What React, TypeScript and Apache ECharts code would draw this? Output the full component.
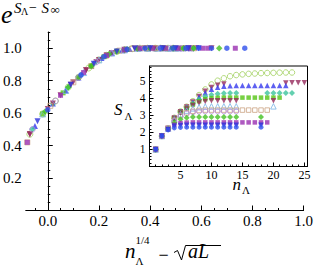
import React, { useEffect, useRef } from "react";
import * as echarts from "echarts";

// ---------- tick values ----------
const mainXTicks = [0, 0.2, 0.4, 0.6, 0.8, 1.0];
const mainYTicks = [0.2, 0.4, 0.6, 0.8, 1.0];
const insetXTicks = [5, 10, 15, 20, 25];
const insetYTicks = [1, 2, 3, 4, 5];

// ---------- inset: n values and S_Lambda per series (null = no point) ----------
const insetN = [1, 2, 3, 4, 5, 6, 7, 8, 9, 10, 11, 12, 13, 14, 15, 16, 17, 18, 19, 20, 21, 22, 23, 24, 25];

const inBlueCircle = [1.0, 1.78, 2.14, 2.26, 2.29, 2.3, 2.3, 2.3, 2.3, 2.3, 2.3, 2.3, 2.3, 2.3, null, null, null, 2.3];
const inBlueDown = [1.0, 1.78, 2.16, 2.35, 2.4, 2.42, 2.42, 2.42, 2.42, 2.42, 2.42, 2.42, 2.42, 2.42, null, null, null, 2.42];
const inPurpleSquare = [1.0, 1.78, 2.18, 2.44, 2.54, 2.57, 2.58, 2.58, 2.58, 2.58, 2.58, 2.58, 2.58, 2.58, 2.58, 2.58, 2.58, 2.58, 2.58];
const inGreenDiamond = [1.0, 1.78, 2.2, 2.56, 2.76, 2.85, 2.89, 2.9, 2.9, 2.9, 2.9, 2.9, 2.9, 2.9, null, null, null, 2.9];
const inVioletCircle = [1.0, 1.78, 2.21, 2.66, 2.94, 3.1, 3.18, 3.21, 3.22, 3.22, 3.22, 3.22, 3.22, 3.22];
const inTanSquare = [1.0, 1.78, 2.22, 2.7, 2.98, 3.14, 3.23, 3.28, 3.3, 3.3, 3.3, 3.3, 3.3, 3.3, 3.3, 3.3, 3.3, 3.3, 3.3];
const inLightBlueTri = [1.0, 1.78, 2.22, 2.75, 3.06, 3.27, 3.4, 3.47, 3.51, 3.52, 3.52, 3.52, 3.52, 3.52, null, null, null, null, null, 3.52];
const inMaroonDownA = [1.0, 1.78, 2.22, 2.78, 3.12, 3.37, 3.57, 3.72, 3.8, 3.84, 3.85, 3.85, 3.85, 3.85, null, null, null, null, null, 3.85];
const inGreenSquare = [1.0, 1.78, 2.22, 2.8, 3.15, 3.4, 3.62, 3.82, 3.94, 4.0, 4.02, 4.03, 4.03, 4.03, 4.03, 4.03, 4.03, 4.03, 4.03, 4.03, 4.03];
const inTealDiamond = [1.0, 1.78, 2.22, 2.82, 3.18, 3.43, 3.68, 3.92, 4.1, 4.2, 4.26, 4.29, 4.3, 4.3, null, null, null, null, 4.3, 4.3, 4.3, 4.3, 4.3];
const inBlueUp = [1.0, 1.78, 2.22, 2.83, 3.2, 3.46, 3.74, 4.05, 4.32, 4.52, 4.64, 4.7, 4.73, 4.74, 4.74, 4.74, 4.74, 4.74, 4.74, 4.74, 4.74, 4.74];
const inMaroonDownB = [1.0, 1.78, 2.22, 2.84, 3.21, 3.48, 3.78, 4.1, 4.4, 4.62, 4.75, 4.82, null, null, null, null, null, null, null, null, null, 4.88, 4.9, 4.9, 4.9];
const inGreenCircle = [1.0, 1.78, 2.22, 2.85, 3.22, 3.5, 3.82, 4.18, 4.51, 4.8, 5.02, 5.16, 5.28, 5.35, 5.39, 5.42, 5.44, 5.46, 5.47, 5.48, 5.49, 5.5, 5.5];

// ---------- main plot: [n^(1/4) - sqrt(aL), e^(S - S_inf)] per series ----------
const mBlueCircle = [[0.0, 0.62], [0.13, 0.835], [0.22, 0.948], [0.31, 0.993], [0.38, 1.0], [0.44, 1.0], [0.49, 1.0], [0.54, 1.0], [0.59, 1.0], [0.64, 1.0], [0.7, 1.0], [0.77, 1.0]];
const mBlueDown = [[-0.04, 0.55], [0.09, 0.775], [0.18, 0.905], [0.27, 0.98], [0.34, 0.998], [0.4, 1.0], [0.45, 1.0], [0.5, 1.0], [0.55, 1.0], [0.59, 1.0]];
const mPurpleSquare = [[-0.08, 0.42], [0.05, 0.71], [0.14, 0.85], [0.23, 0.956], [0.3, 0.99], [0.36, 1.0], [0.41, 1.0], [0.46, 1.0], [0.51, 1.0], [0.55, 1.0], [0.605, 1.0], [0.625, 1.0], [0.733, 1.0]];
const mGreenDiamond = [[-0.01, 0.61], [0.08, 0.76], [0.17, 0.89], [0.24, 0.964], [0.3, 0.99], [0.35, 0.999], [0.4, 1.0], [0.45, 1.0], [0.49, 1.0], [0.53, 1.0], [0.57, 1.0], [0.67, 1.0]];
const mVioletCircle = [[-0.06, 0.5], [0.03, 0.675], [0.12, 0.82], [0.19, 0.915], [0.25, 0.97], [0.3, 0.99], [0.35, 0.999], [0.4, 1.0], [0.44, 1.0], [0.48, 1.0], [0.52, 1.0], [0.55, 1.0]];
const mTanSquare = [[-0.08, 0.42], [0.01, 0.645], [0.1, 0.79], [0.17, 0.89], [0.23, 0.956], [0.28, 0.985], [0.33, 0.997], [0.38, 1.0], [0.42, 1.0], [0.46, 1.0], [0.5, 1.0], [0.53, 1.0], [0.57, 1.0]];
const mLightBlueTri = [[-0.02, 0.595], [0.07, 0.74], [0.14, 0.85], [0.2, 0.928], [0.25, 0.97], [0.3, 0.99], [0.35, 0.999], [0.39, 1.0], [0.43, 1.0], [0.47, 1.0], [0.5, 1.0]];
const mMaroonDownA = [[-0.07, 0.47], [0.02, 0.66], [0.09, 0.775], [0.15, 0.865], [0.2, 0.928], [0.25, 0.97], [0.3, 0.99], [0.34, 0.998], [0.38, 1.0], [0.42, 1.0], [0.45, 1.0]];
const mGreenSquare = [[-0.02, 0.595], [0.06, 0.725], [0.12, 0.82], [0.17, 0.89], [0.22, 0.948], [0.27, 0.98], [0.31, 0.993], [0.35, 0.999], [0.39, 1.0], [0.42, 1.0], [0.46, 1.0], [0.49, 1.0], [0.52, 1.0], [0.55, 1.0]];
const mTealDiamond = [[-0.06, 0.5], [0.02, 0.66], [0.08, 0.76], [0.13, 0.835], [0.18, 0.905], [0.23, 0.956], [0.27, 0.98], [0.31, 0.993], [0.35, 0.999], [0.38, 1.0], [0.54, 1.0], [0.57, 1.0]];
const mBlueUp = [[-0.05, 0.52], [0.02, 0.66], [0.07, 0.74], [0.12, 0.82], [0.17, 0.89], [0.21, 0.94], [0.25, 0.97], [0.29, 0.988], [0.32, 0.995], [0.36, 1.0], [0.39, 1.0], [0.42, 1.0], [0.45, 1.0], [0.48, 1.0], [0.51, 1.0], [0.53, 1.0], [0.56, 1.0]];
const mMaroonDownB = [[-0.07, 0.47], [0.0, 0.625], [0.05, 0.71], [0.1, 0.79], [0.15, 0.865], [0.19, 0.915], [0.23, 0.956], [0.54, 1.0], [0.56, 1.0], [0.58, 1.0], [0.64, 1.0]];
const mGreenCircle = [[-0.07, 0.47], [-0.02, 0.595], [0.03, 0.675], [0.08, 0.76], [0.12, 0.82], [0.16, 0.878], [0.2, 0.928], [0.23, 0.956], [0.27, 0.98], [0.3, 0.99], [0.33, 0.997], [0.36, 1.0], [0.39, 1.0], [0.42, 1.0], [0.44, 1.0], [0.47, 1.0], [0.49, 1.0]];

type Spec = { name: string; symbol: string; rotate: number; color: string; hollow: boolean; size: number; inset: (number | null)[]; main: number[][] };

const specs: Spec[] = [
  { name: "L13", symbol: "circle", rotate: 0, color: "#9fd05a", hollow: true, size: 6, inset: inGreenCircle, main: mGreenCircle },
  { name: "L12", symbol: "triangle", rotate: 180, color: "#962a5c", hollow: false, size: 6, inset: inMaroonDownB, main: mMaroonDownB },
  { name: "L11", symbol: "triangle", rotate: 0, color: "#3438ee", hollow: false, size: 6, inset: inBlueUp, main: mBlueUp },
  { name: "L10", symbol: "diamond", rotate: 0, color: "#3cc49c", hollow: false, size: 6.5, inset: inTealDiamond, main: mTealDiamond },
  { name: "L9", symbol: "rect", rotate: 0, color: "#55c414", hollow: false, size: 5, inset: inGreenSquare, main: mGreenSquare },
  { name: "L8", symbol: "triangle", rotate: 180, color: "#962a5c", hollow: false, size: 6, inset: inMaroonDownA, main: mMaroonDownA },
  { name: "L7", symbol: "triangle", rotate: 0, color: "#78b4e6", hollow: true, size: 6, inset: inLightBlueTri, main: mLightBlueTri },
  { name: "L6", symbol: "rect", rotate: 0, color: "#caa282", hollow: true, size: 5, inset: inTanSquare, main: mTanSquare },
  { name: "L5", symbol: "circle", rotate: 0, color: "#b287e0", hollow: true, size: 5.5, inset: inVioletCircle, main: mVioletCircle },
  { name: "L4", symbol: "diamond", rotate: 0, color: "#44c022", hollow: false, size: 6.5, inset: inGreenDiamond, main: mGreenDiamond },
  { name: "L3", symbol: "rect", rotate: 0, color: "#9a30b0", hollow: false, size: 5, inset: inPurpleSquare, main: mPurpleSquare },
  { name: "L2", symbol: "triangle", rotate: 180, color: "#2a30dc", hollow: false, size: 6, inset: inBlueDown, main: mBlueDown },
  { name: "L1", symbol: "circle", rotate: 0, color: "#3050ec", hollow: false, size: 5.5, inset: inBlueCircle, main: mBlueCircle },
];

const FONT = "Liberation Serif";

function minorTicks(from: number, to: number, step: number, skipEvery: number): number[] {
  const out: number[] = [];
  const count = Math.round((to - from) / step);
  for (let i = 0; i <= count; i++) {
    if (i % skipEvery === 0) continue;
    out.push(+(from + i * step).toFixed(4));
  }
  return out;
}

export default function App() {
  const ref = useRef<HTMLDivElement>(null);
  useEffect(() => {
    if (!ref.current) return;
    const chart = echarts.init(ref.current, null, { renderer: "svg" });
    const black = "#000";

    const baseAxis = (extra: any) => ({
      type: "value",
      splitLine: { show: false },
      ...extra,
    });

    const mainMinorX = minorTicks(-0.05, 1.0, 0.05, 4).concat([-0.05]);
    const mainMinorY = minorTicks(0, 1.1, 0.05, 4);
    const insetMinorX = minorTicks(0, 25, 1, 5);
    const insetMinorY = minorTicks(0, 5.8, 0.2, 5);

    const series: any[] = [];
    specs.forEach((s) => {
      const style = s.hollow
        ? { color: "rgba(255,255,255,0)", borderColor: s.color, borderWidth: 1 }
        : { color: s.color, borderWidth: 0 };
      series.push({
        type: "scatter",
        name: s.name + "m",
        xAxisIndex: 0,
        yAxisIndex: 0,
        symbol: s.symbol,
        symbolRotate: s.rotate,
        symbolSize: s.size,
        itemStyle: style,
        data: s.main,
        silent: true,
      });
      const pts: number[][] = [];
      s.inset.forEach((v, i) => {
        if (v != null) pts.push([insetN[i], v]);
      });
      series.push({
        type: "scatter",
        name: s.name + "i",
        xAxisIndex: 2,
        yAxisIndex: 2,
        symbol: s.symbol,
        symbolRotate: s.rotate,
        symbolSize: s.size - 0.5,
        itemStyle: style,
        data: pts,
        silent: true,
        z: 6,
      });
    });

    const txt = (text: string, x: number, y: number, size: number, italic: boolean, align = "left") => ({
      type: "text",
      x,
      y,
      silent: true,
      style: {
        text,
        fill: black,
        fontFamily: FONT,
        fontSize: size,
        fontStyle: italic ? "italic" : "normal",
        align,
        verticalAlign: "middle",
      },
    });

    const option: any = {
      animation: false,
      backgroundColor: "#fff",
      grid: [
        { left: 17, right: 9, top: 32, bottom: 59.5 },
        { left: 149.5, right: 8.5, top: 66, bottom: 103.5, show: true, backgroundColor: "#fff", borderColor: black, borderWidth: 1 },
      ],
      xAxis: [
        baseAxis({
          gridIndex: 0, min: -0.086, max: 1.0, position: "bottom",
          axisLine: { show: true, onZero: false, lineStyle: { color: black, width: 1 } },
          axisTick: { show: true, inside: true, length: 5, customValues: mainXTicks, lineStyle: { color: black } },
          axisLabel: { customValues: mainXTicks, formatter: (v: number) => v.toFixed(1), color: black, fontFamily: FONT, fontSize: 15, margin: 3 },
        }),
        baseAxis({
          gridIndex: 0, min: -0.086, max: 1.0, position: "bottom",
          axisLine: { show: false, onZero: false },
          axisTick: { show: true, inside: true, length: 2.5, customValues: mainMinorX, lineStyle: { color: black } },
          axisLabel: { show: false },
        }),
        baseAxis({
          gridIndex: 1, min: 0, max: 25.5, position: "bottom",
          axisLine: { show: true, onZero: false, lineStyle: { color: black, width: 1 } },
          axisTick: { show: true, inside: true, length: 4, customValues: insetXTicks, lineStyle: { color: black } },
          axisLabel: { customValues: insetXTicks, color: black, fontFamily: FONT, fontSize: 12, margin: 2 },
        }),
        baseAxis({
          gridIndex: 1, min: 0, max: 25.5, position: "bottom",
          axisLine: { show: false, onZero: false },
          axisTick: { show: true, inside: true, length: 2, customValues: insetMinorX, lineStyle: { color: black } },
          axisLabel: { show: false },
        }),
      ],
      yAxis: [
        baseAxis({
          gridIndex: 0, min: 0, max: 1.1, position: "left",
          axisLine: { show: true, onZero: true, onZeroAxisIndex: 0, lineStyle: { color: black, width: 1 } },
          axisTick: { show: true, inside: true, length: 5, customValues: mainYTicks, lineStyle: { color: black } },
          axisLabel: { customValues: mainYTicks, formatter: (v: number) => v.toFixed(1), color: black, fontFamily: FONT, fontSize: 15, margin: 4 },
        }),
        baseAxis({
          gridIndex: 0, min: 0, max: 1.1, position: "left",
          axisLine: { show: false, onZero: true, onZeroAxisIndex: 0 },
          axisTick: { show: true, inside: true, length: 2.5, customValues: mainMinorY, lineStyle: { color: black } },
          axisLabel: { show: false },
        }),
        baseAxis({
          gridIndex: 1, min: 0, max: 5.88, position: "left",
          axisLine: { show: true, onZero: false, lineStyle: { color: black, width: 1 } },
          axisTick: { show: true, inside: true, length: 4, customValues: insetYTicks, lineStyle: { color: black } },
          axisLabel: { customValues: insetYTicks, color: black, fontFamily: FONT, fontSize: 11.5, margin: 4 },
        }),
        baseAxis({
          gridIndex: 1, min: 0, max: 5.88, position: "left",
          axisLine: { show: false, onZero: false },
          axisTick: { show: true, inside: true, length: 2, customValues: insetMinorY, lineStyle: { color: black } },
          axisLabel: { show: false },
        }),
      ],
      series,
      graphic: [
        // y-axis title e^{S_Λ - S_∞}
        txt("e", 1, 14.5, 26, true),
        txt("S", 14, 8, 15, true),
        txt("Λ", 21, 11, 10, false),
        txt("−", 29, 7.5, 14, false),
        txt("S", 41.5, 8, 15, true),
        txt("∞", 50.5, 9.5, 13, false),
        // x-axis title n_Λ^{1/4} − √(aL)
        txt("n", 125, 251, 21, true),
        txt("1/4", 135.5, 240, 11, false),
        txt("Λ", 135.5, 260.5, 11, false),
        txt("−", 163.5, 254.5, 18, false, "center"),
        {
          type: "polyline",
          silent: true,
          shape: { points: [[174, 252.5], [177.5, 250.5], [181.5, 260], [185.5, 245.5], [221, 245.5]] },
          style: { stroke: black, lineWidth: 1, fill: "none" },
        },
        txt("aL", 188, 251.2, 20, true),
        // inset labels
        txt("S", 114, 109.5, 17, true),
        txt("Λ", 124.5, 116.3, 11, false),
        txt("n", 232.5, 184.5, 17, true),
        txt("Λ", 242, 190, 11, false),
      ],
    };
    chart.setOption(option);
    return () => chart.dispose();
  }, []);
  return <div ref={ref} style={{ position: "absolute", left: 0, top: 0, width: 316, height: 270 }} />;
}
